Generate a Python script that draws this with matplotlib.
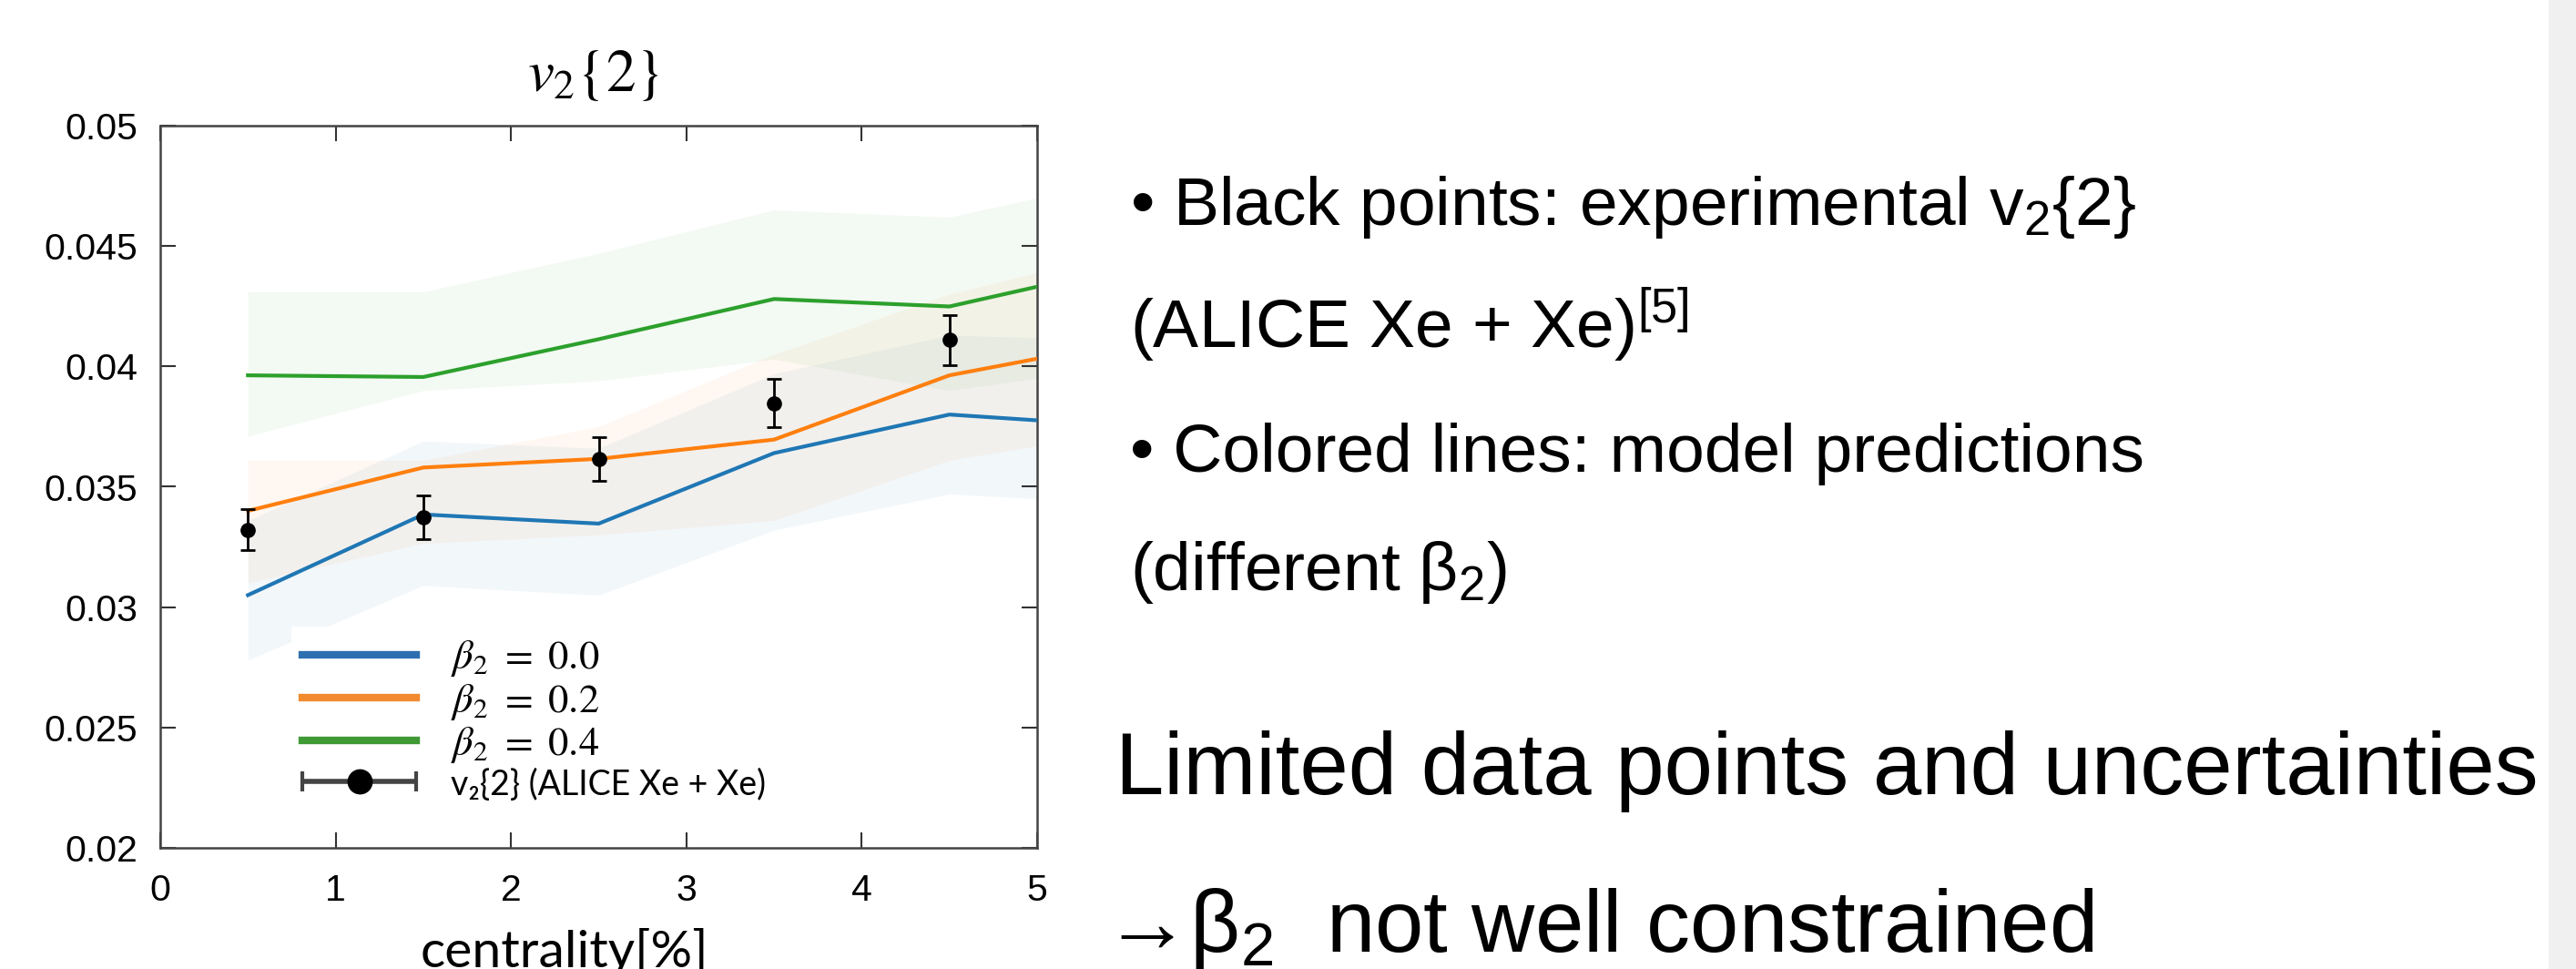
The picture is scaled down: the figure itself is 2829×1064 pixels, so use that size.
import numpy as np
import matplotlib
matplotlib.use('Agg')
import matplotlib.pyplot as plt
from matplotlib.legend_handler import HandlerErrorbar
from matplotlib.lines import Line2D
from matplotlib.patches import Rectangle

plt.rcParams['mathtext.fontset'] = 'stix'
plt.rcParams['mathtext.rm'] = 'Liberation Sans'
plt.rcParams['mathtext.it'] = 'Liberation Sans:italic'
plt.rcParams['mathtext.bf'] = 'Liberation Sans:bold'

# centrality where the model curves are given
cent = [0.5, 1.5, 2.5, 3.5, 4.5, 5.0]

# model v2{2} for beta2 = 0.0 / 0.2 / 0.4 (line, band low, band high)
v2_b00 = [0.0305, 0.03385, 0.03347, 0.0364, 0.0380, 0.03776]
v2_b00_lo = [0.0278, 0.0309, 0.0305, 0.0332, 0.0347, 0.0345]
v2_b00_hi = [0.0336, 0.0369, 0.0366, 0.0397, 0.0413, 0.0412]

v2_b02 = [0.0340, 0.0358, 0.03616, 0.03696, 0.03963, 0.04032]
v2_b02_lo = [0.0310, 0.03265, 0.0330, 0.0336, 0.0361, 0.0367]
v2_b02_hi = [0.0361, 0.0361, 0.0375, 0.0405, 0.0430, 0.0439]

v2_b04 = [0.03963, 0.03956, 0.04113, 0.0428, 0.04249, 0.04331]
v2_b04_lo = [0.0371, 0.0390, 0.0394, 0.0403, 0.0390, 0.0395]
v2_b04_hi = [0.0431, 0.0431, 0.0447, 0.0465, 0.0462, 0.0470]

# ALICE Xe+Xe data
cent_exp = [0.5, 1.5, 2.5, 3.5, 4.5]
v2_exp = [0.03322, 0.03373, 0.03616, 0.03848, 0.0411]
v2_exp_err = [0.00084, 0.0009, 0.0009, 0.001, 0.00105]

xticks = [0, 1, 2, 3, 4, 5]
yticks = [0.02, 0.025, 0.03, 0.035, 0.04, 0.045, 0.05]
ytick_labels = ['0.02', '0.025', '0.03', '0.035', '0.04', '0.045', '0.05']

W, H = 2829, 1064
fig = plt.figure(figsize=(W / 100, H / 100), dpi=100)
fig.patch.set_facecolor('white')

# grey strip on the right edge of the slide
fig.patches.append(Rectangle((2799 / W, 0), 30 / W, 1, transform=fig.transFigure,
                             facecolor='#f0f0f0', edgecolor='none', zorder=0))

ax = fig.add_axes([176 / W, 1 - 931 / H, 963 / W, 793 / H])

c_blue, c_orange, c_green = '#1f77b4', '#ff7f0e', '#2ca02c'
for lo, hi, c in [(v2_b00_lo, v2_b00_hi, c_blue), (v2_b02_lo, v2_b02_hi, c_orange),
                  (v2_b04_lo, v2_b04_hi, c_green)]:
    ax.fill_between(cent, lo, hi, color=c, alpha=0.055, linewidth=0, zorder=1)

ax.plot(cent, v2_b00, color=c_blue, lw=3, zorder=3)
ax.plot(cent, v2_b02, color=c_orange, lw=3, zorder=3)
ax.plot(cent, v2_b04, color=c_green, lw=3, zorder=3)
ax.errorbar(cent_exp, v2_exp, yerr=v2_exp_err, fmt='o', color='black', ms=11,
            elinewidth=2, capsize=6, capthick=2, zorder=4)

ax.set_xlim(0, 5)
ax.set_ylim(0.02, 0.05)
ax.set_xticks(xticks)
ax.set_yticks(yticks)
ax.set_yticklabels(ytick_labels)
for lab in ax.get_xticklabels() + ax.get_yticklabels():
    lab.set_fontfamily('Liberation Sans')
    lab.set_fontsize(29.5)
ax.tick_params(direction='in', length=12, width=1.5, color='#333333',
               top=True, right=True)
ax.tick_params(axis='x', pad=20)
ax.tick_params(axis='y', pad=18)
for sp in ax.spines.values():
    sp.set_color('#444444')
    sp.set_linewidth(1.8)

# legend proxies
h0 = Line2D([], [], color='#2e6fb0', lw=6)
h2 = Line2D([], [], color='#f28a2e', lw=6)
h4 = Line2D([], [], color='#3f9a35', lw=6)
h_exp = ax.errorbar([np.nan], [np.nan], xerr=[1.0], fmt='o', color='black', ms=19,
                    ecolor='#444444', elinewidth=4, capsize=8, capthick=3)
leg_fs = 32
hl = 2.8
leg = ax.legend([h0, h2, h4, h_exp],
                [r'$\beta_2\ =\ 0.0$', r'$\beta_2\ =\ 0.2$', r'$\beta_2\ =\ 0.4$',
                 'v\u2082{2} (ALICE Xe + Xe)'],
                loc='upper left', bbox_to_anchor=((320 - 176) / 963, (931 - 688) / 793),
                borderaxespad=0, borderpad=0.28, fontsize=leg_fs, handlelength=hl,
                handletextpad=0.85, labelspacing=0.05, frameon=True, fancybox=False,
                facecolor='white', edgecolor='none', framealpha=1,
                handler_map={h_exp: HandlerErrorbar(xerr_size=hl / 2)})
leg.set_zorder(2)
t4 = leg.get_texts()[3]
t4.set_fontfamily(['Lato', 'Noto Sans'])
t4.set_fontsize(27)

# title and x label
fig.text(652 / W, 1 - 100 / H, r'$v_2\{2\}$', fontsize=47, ha='center', va='baseline')
fig.text(620 / W, 1 - 1062 / H, 'centrality[%]', fontsize=41, ha='center',
         va='baseline', family=['Lato', 'Noto Sans'])

# slide text on the right
sans = ['Liberation Sans', 'DejaVu Sans']
fig.text(1241 / W, 1 - 247 / H, '\u2022 Black points: experimental v$_2${2}', fontsize=54,
         family=sans, math_fontfamily='custom', va='baseline')
fig.text(1241 / W, 1 - 382 / H, '(ALICE Xe + Xe)$^{[5]}$', fontsize=54,
         family=sans, math_fontfamily='custom', va='baseline')
fig.text(1241 / W, 1 - 518 / H, '\u2022 Colored lines: model predictions', fontsize=54,
         family=sans, va='baseline')
fig.text(1241 / W, 1 - 648 / H, '(different \u03b2$_2$)', fontsize=54,
         family=sans, math_fontfamily='custom', va='baseline')
fig.text(1225 / W, 1 - 872 / H, 'Limited data points and uncertainties', fontsize=69,
         family=sans, va='baseline')
fig.text(1211 / W, 1 - 1045 / H, '\u2192\u03b2$_2$  not well constrained', fontsize=69,
         family=sans, math_fontfamily='custom', va='baseline')

fig.savefig('out.png', dpi=100)
